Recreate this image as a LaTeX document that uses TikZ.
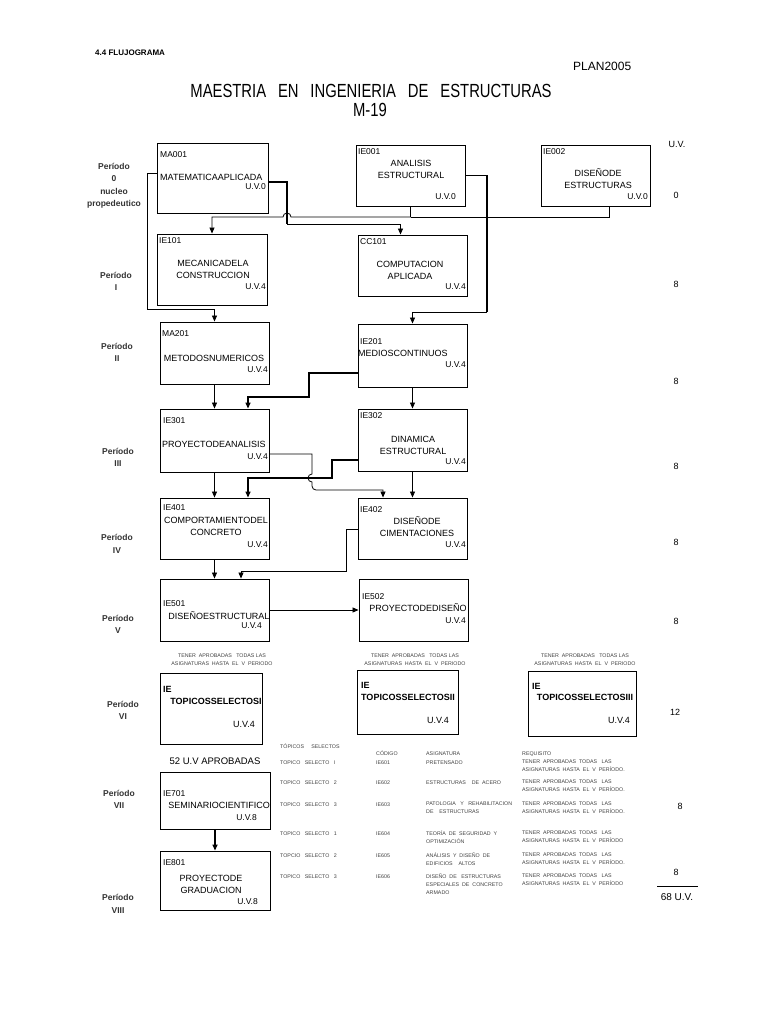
\documentclass[tikz,border=0pt]{standalone}
\usepackage{graphicx}
\usepackage{fontspec}
\setmainfont{Liberation Sans}
\usetikzlibrary{arrows.meta,positioning}

\tikzset{course/.style={
			  rectangle,
			  draw            = black,
			  line width      = 0.9pt,
			  inner sep       = 0pt
			}}
\tikzset{code/.style={
			  anchor          = west,
			  inner sep       = 0pt,
			  font            = \fontsize{8.5}{10}\selectfont
			}}
\tikzset{subject/.style={
			  inner sep       = 0pt,
			  align           = center,
			  font            = \fontsize{9}{12}\selectfont
			}}
\tikzset{credit/.style={
			  anchor          = east,
			  inner sep       = 0pt,
			  font            = \fontsize{8.5}{10}\selectfont
			}}
\tikzset{period/.style={
			  inner sep       = 0pt,
			  align           = center,
			  text            = black!80,
			  font            = \bfseries\fontsize{8.5}{12.5}\selectfont
			}}
\tikzset{total/.style={
			  inner sep       = 0pt,
			  font            = \fontsize{9}{11}\selectfont
			}}
\tikzset{tiny/.style={
			  anchor          = north west,
			  inner sep       = 0pt,
			  align           = left,
			  text            = black!75,
			  font            = \fontsize{5.3}{8}\selectfont,
			  execute at begin node = {\vphantom{ÍÓÁÑ}}
			}}
\tikzset{link/.style={line width=0.8pt}}
\tikzset{flow/.style={link, ->}}

\begin{document}
\begin{tikzpicture}[x=1pt, y=-1pt, >={Triangle[length=6pt,width=5pt]}]
    \useasboundingbox (0,0) rectangle (768,1024);

    % header
    \node (head)   [anchor=west, inner sep=0pt, font=\bfseries\fontsize{8}{10}\selectfont] at (95,53) {4.4 FLUJOGRAMA};
    \node (plan)   [anchor=west, inner sep=0pt, font=\fontsize{12}{14}\selectfont] at (573,66) {PLAN2005};
    \node (title1) [inner sep=0pt, font=\fontsize{19}{19}\selectfont] at (371,91)
        {\scalebox{0.78}[1]{MAESTRIA\hspace{0.8em}EN\hspace{0.8em}INGENIERIA\hspace{0.8em}DE\hspace{0.8em}ESTRUCTURAS}};
    \node (title2) [inner sep=0pt, font=\fontsize{19}{19}\selectfont] at (370,110) {\scalebox{0.78}[1]{M-19}};

    % periods
    \node (p0) [period] at (114,186)   {Período\\0\\nucleo\\propedeutico};
    \node (p1) [period] at (116,281.5) {Período\\I};
    \node (p2) [period] at (117,352.5) {Período\\II};
    \node (p3) [period] at (118,457.5) {Período\\III};
    \node (p4) [period] at (117,544)   {Período\\IV};
    \node (p5) [period] at (118,624.5) {Período\\V};
    \node (p6) [period] at (123,710.5) {Período\\VI};
    \node (p7) [period] at (119,799.5) {Período\\VII};
    \node (p8) [period] at (118,904)   {Período\\VIII};

    % period 0
    \node (ma001)  [course, minimum width=111, minimum height=70] at (212.5,178) {};
    \node (ma001c) [code]            at (160,155)   {MA001};
    \node (ma001t) [subject, anchor=west] at (160,177) {MATEMATICAAPLICADA};
    \node (ma001u) [credit]          at (266,187)   {U.V.0};
    \node (ie001)  [course, minimum width=109, minimum height=61] at (410.5,175.5) {};
    \node (ie001c) [code]            at (358,152)   {IE001};
    \node (ie001t) [subject]         at (411,169)   {ANALISIS\\ESTRUCTURAL};
    \node (ie001u) [credit]          at (456,197)   {U.V.0};
    \node (ie002)  [course, minimum width=109, minimum height=61] at (595.5,175.5) {};
    \node (ie002c) [code]            at (543,152)   {IE002};
    \node (ie002t) [subject]         at (598,179)   {DISEÑODE\\ESTRUCTURAS};
    \node (ie002u) [credit]          at (648,197)   {U.V.0};

    % period I
    \node (ie101)  [course, minimum width=110, minimum height=71] at (212,269.5) {};
    \node (ie101c) [code]            at (159,241)   {IE101};
    \node (ie101t) [subject]         at (213,269.5) {MECANICADELA\\CONSTRUCCION};
    \node (ie101u) [credit]          at (266,287)   {U.V.4};
    \node (cc101)  [course, minimum width=109, minimum height=61] at (412.5,265.5) {};
    \node (cc101c) [code]            at (360,242)   {CC101};
    \node (cc101t) [subject]         at (410,270)   {COMPUTACION\\APLICADA};
    \node (cc101u) [credit]          at (466,287)   {U.V.4};

    % period II
    \node (ma201)  [course, minimum width=109, minimum height=62] at (214.5,353) {};
    \node (ma201c) [code]            at (162,334)   {MA201};
    \node (ma201t) [subject]         at (214,358)   {METODOSNUMERICOS};
    \node (ma201u) [credit]          at (268,370)   {U.V.4};
    \node (ie201)  [course, minimum width=109, minimum height=63] at (412.5,355.5) {};
    \node (ie201c) [code]            at (360,342)   {IE201};
    \node (ie201t) [subject, anchor=west] at (358,353) {MEDIOSCONTINUOS};
    \node (ie201u) [credit]          at (466,365)   {U.V.4};

    % period III
    \node (ie301)  [course, minimum width=109, minimum height=63] at (214.5,440.5) {};
    \node (ie301c) [code]            at (163,421)   {IE301};
    \node (ie301t) [subject, anchor=west] at (162,444) {PROYECTODEANALISIS};
    \node (ie301u) [credit]          at (268,457)   {U.V.4};
    \node (ie302)  [course, minimum width=109, minimum height=62] at (412.5,440) {};
    \node (ie302c) [code]            at (360,416)   {IE302};
    \node (ie302t) [subject]         at (413,445)   {DINAMICA\\ESTRUCTURAL};
    \node (ie302u) [credit]          at (466,462)   {U.V.4};

    % period IV
    \node (ie401)  [course, minimum width=109, minimum height=61] at (214.5,528.5) {};
    \node (ie401c) [code]            at (163,508)   {IE401};
    \node (ie401t) [subject]         at (216,526.5) {COMPORTAMIENTODEL\\CONCRETO};
    \node (ie401u) [credit]          at (268,545)   {U.V.4};
    \node (ie402)  [course, minimum width=109, minimum height=61] at (412.5,528.5) {};
    \node (ie402c) [code]            at (360,510)   {IE402};
    \node (ie402t) [subject]         at (417,527)   {DISEÑODE\\CIMENTACIONES};
    \node (ie402u) [credit]          at (466,545)   {U.V.4};

    % period V
    \node (ie501)  [course, minimum width=109, minimum height=62] at (214.5,610) {};
    \node (ie501c) [code]            at (163,604)   {IE501};
    \node (ie501t) [subject]         at (219,616)   {DISEÑOESTRUCTURAL};
    \node (ie501u) [credit]          at (262,626)   {U.V.4};
    \node (ie502)  [course, minimum width=109, minimum height=62] at (413.5,610) {};
    \node (ie502c) [code]            at (362,597)   {IE502};
    \node (ie502t) [subject]         at (418,608)   {PROYECTODEDISEÑO};
    \node (ie502u) [credit]          at (466,621)   {U.V.4};

    % period VI
    \foreach \x [count=\i] in {222,415,585}
      \node (req\i) [tiny, anchor=center, align=center] at (\x,660)
        {TENER\ \ APROBADAS\ \ \ TODAS\ LAS\\ASIGNATURAS\ \ HASTA\ \ EL\ \ V\ \ PERIODO};
    \node (ts1)  [course, minimum width=102, minimum height=71] at (211,708.5) {};
    \node (ts1c) [code, font=\bfseries\fontsize{9}{10}\selectfont] at (163,689) {IE};
    \node (ts1t) [subject, font=\bfseries\fontsize{9}{10}\selectfont] at (216,701) {TOPICOSSELECTOSI};
    \node (ts1u) [credit, font=\fontsize{9}{10}\selectfont] at (255,724) {U.V.4};
    \node (ts2)  [course, minimum width=101, minimum height=64] at (407.5,702) {};
    \node (ts2c) [code, font=\bfseries\fontsize{9}{10}\selectfont] at (361,685) {IE};
    \node (ts2t) [subject, font=\bfseries\fontsize{9}{10}\selectfont] at (408,697) {TOPICOSSELECTOSII};
    \node (ts2u) [credit, font=\fontsize{9}{10}\selectfont] at (449,720) {U.V.4};
    \node (ts3)  [course, minimum width=108, minimum height=65] at (582,703.5) {};
    \node (ts3c) [code, font=\bfseries\fontsize{9}{10}\selectfont] at (532,686) {IE};
    \node (ts3t) [subject, font=\bfseries\fontsize{9}{10}\selectfont] at (585,697) {TOPICOSSELECTOSIII};
    \node (ts3u) [credit, font=\fontsize{9}{10}\selectfont] at (630,720) {U.V.4};

    % period VII and VIII
    \node (pass)   [total, font=\fontsize{9.5}{11}\selectfont] at (215,761) {52 U.V APROBADAS};
    \node (ie701)  [course, minimum width=110, minimum height=57] at (215,800.5) {};
    \node (ie701c) [code]            at (163,794)   {IE701};
    \node (ie701t) [subject]         at (219,805)   {SEMINARIOCIENTIFICO};
    \node (ie701u) [credit]          at (257,818)   {U.V.8};
    \node (ie801)  [course, minimum width=110, minimum height=59] at (215,880.5) {};
    \node (ie801c) [code]            at (163,863)   {IE801};
    \node (ie801t) [subject]         at (211,884.5) {PROYECTODE\\GRADUACION};
    \node (ie801u) [credit]          at (258,902)   {U.V.8};

    % elective table
    \node (th1) [tiny] at (280,744) {TÓPICOS\ \ \ \ \ SELECTOS};
    \node (th2) [tiny] at (376,751) {CÓDIGO};
    \node (th3) [tiny] at (426,751) {ASIGNATURA};
    \node (th4) [tiny] at (522,751) {REQUISITO};
    \foreach \y/\tp/\cd/\as/\dt in {
        760/{TOPICO\ \ \ SELECTO\ \ \ I}/IE601/{PRETENSADO}/.,
        780/{TOPICO\ \ \ SELECTO\ \ \ 2}/IE602/{ESTRUCTURAS\ \ \ \ DE\ \ ACERO}/.,
        802/{TOPICO\ \ \ SELECTO\ \ \ 3}/IE603/{PATOLOGIA\ \ \ Y\ \ \ REHABILITACION\\DE\ \ \ \ ESTRUCTURAS}/.,
        831/{TOPICO\ \ \ SELECTO\ \ \ 1}/IE604/{TEORÍA\ \ DE\ \ SEGURIDAD\ \ Y\\OPTIMIZACIÓN}/{},
        853/{TOPCIO\ \ \ SELECTO\ \ \ 2}/IE605/{ANÁLISIS\ \ Y\ \ DISEÑO\ \ DE\\EDIFICIOS\ \ \ \ ALTOS}/.,
        874/{TOPICO\ \ \ SELECTO\ \ \ 3}/IE606/{DISEÑO\ \ DE\ \ \ ESTRUCTURAS\\ESPECIALES\ \ DE\ \ CONCRETO\\ARMADO}/{}}
    {
      \node (tp-\cd) [tiny] at (280,\y) {\tp};
      \node (cd-\cd) [tiny] at (376,\y) {\cd};
      \node (as-\cd) [tiny] at (426,\y) {\as};
      \node (rq-\cd) [tiny] at (522,\y) {TENER\ \ APROBADAS\ \ TODAS\ \ \ LAS\\ASIGNATURAS\ \ HASTA\ \ EL\ \ V\ \ PERÍODO\dt};
    }

    % credits column
    \foreach \t/\x/\y [count=\i] in {U.V./677/144, 0/676/195, 8/676/284, 8/676/381, 8/676/466,
                                     8/676/542, 8/676/621, 12/675/712, 8/680/806, 8/676/872}
      \node (uv\i) [total] at (\x,\y) {\t};
    \draw [line width=1pt] (657,886) -- (698,886);
    \node (uvsum) [total, font=\fontsize{10}{12}\selectfont] at (677,897) {68 U.V.};

    % bends
    \coordinate (join0) at (410.5,217);
    \coordinate (drop0) at (287,224);
    \coordinate (turn1) at (487,312);

    \draw [flow] ([yshift=5pt]ma001.west) -| (147,309) -| (ma201.north);
    \draw [flow] (ie001.south) -- (join0) -- (291,217) arc (0:180:4pt) -| (ie101.north);
    \draw [link] ([xshift=14pt]ie002.south) |- (join0);
    \draw [link, line width=1.6pt] ([yshift=-4pt]ma001.east) -| (drop0);
    \draw [flow] (drop0) -| ([xshift=-12pt]cc101.north);
    \draw [link, line width=1.6pt] (ie001.east) -| (turn1);
    \draw [flow] (turn1) -| (ie201.north);

    \draw [flow] (ma201.south) -- (ie301.north);
    \draw [flow, line width=1.3pt] ([yshift=-17.5pt]ie201.west) -| (309,397) -| ([xshift=33.5pt]ie301.north);
    \draw [flow] (ie201.south) -- (ie302.north);

    \draw [flow] (ie301.south) -- (ie401.north);
    \draw [flow] (ie302.south) -- (ie402.north);
    \draw [flow] ([yshift=-13.5pt]ie301.east) -| (312,474) arc (90:270:4pt) -- (312,486) arc (180:270:4pt) -| ([xshift=-29.5pt]ie402.north);
    \draw [flow, line width=1.3pt] ([yshift=-20pt]ie302.west) -| (332,478) -| ([xshift=33.5pt]ie401.north);

    \draw [flow] (ie401.south) -- (ie501.north);
    \draw [flow] ([yshift=-0.5pt]ie402.west) -| (346,571) -| ([xshift=26.5pt]ie501.north);
    \draw [flow] (ie501.east) -- (ie502.west);

    \draw [flow, line width=1.6pt] (ie701.south) -- (ie801.north);

\end{tikzpicture}
\end{document}
